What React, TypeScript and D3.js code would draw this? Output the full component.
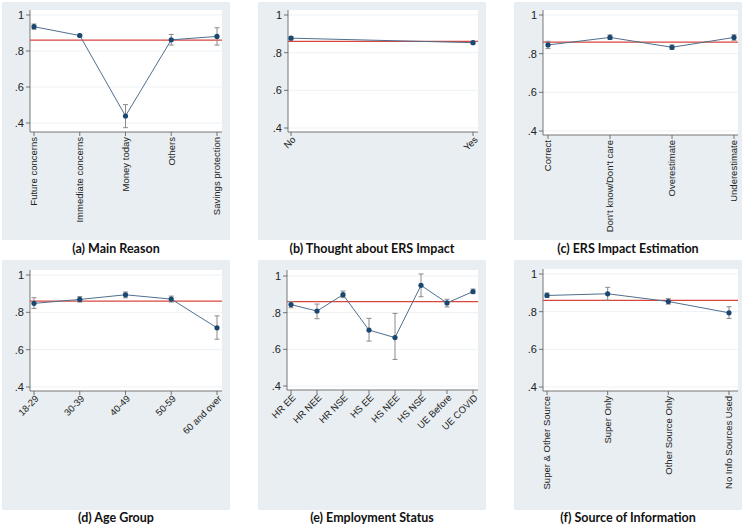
import React from "react";
import * as d3 from "d3";

// ---------- data ----------
const REF_VALUE = 0.86;
const yTickValues = [0.4, 0.6, 0.8, 1];
const yTickLabels = [".4", ".6", ".8", "1"];

const reasonCats = ["Future concerns", "Immediate concerns", "Money today", "Others", "Savings protection"];
const reasonMean = [0.935, 0.886, 0.439, 0.862, 0.881];
const reasonLo = [0.921, 0.88, 0.374, 0.833, 0.833];
const reasonHi = [0.95, 0.893, 0.502, 0.892, 0.929];

const thoughtCats = ["No", "Yes"];
const thoughtMean = [0.877, 0.853];
const thoughtLo = [0.868, 0.847];
const thoughtHi = [0.886, 0.859];

const estCats = ["Correct", "Don't know/Don't care", "Overestimate", "Underestimate"];
const estMean = [0.845, 0.884, 0.833, 0.884];
const estLo = [0.826, 0.874, 0.822, 0.869];
const estHi = [0.864, 0.897, 0.845, 0.898];

const ageCats = ["18-29", "30-39", "40-49", "50-59", "60 and over"];
const ageMean = [0.848, 0.869, 0.894, 0.871, 0.717];
const ageLo = [0.821, 0.855, 0.878, 0.855, 0.656];
const ageHi = [0.878, 0.884, 0.909, 0.887, 0.781];

const empCats = ["HR EE", "HR NEE", "HR NSE", "HS EE", "HS NEE", "HS NSE", "UE Before", "UE COVID"];
const empMean = [0.844, 0.809, 0.898, 0.705, 0.664, 0.949, 0.853, 0.915];
const empLo = [0.827, 0.767, 0.882, 0.645, 0.545, 0.887, 0.831, 0.904];
const empHi = [0.86, 0.847, 0.918, 0.769, 0.796, 1.011, 0.873, 0.929];

const srcCats = ["Super & Other Source", "Super Only", "Other Source Only", "No Info Sources Used"];
const srcMean = [0.886, 0.895, 0.854, 0.794];
const srcLo = [0.876, 0.861, 0.84, 0.764];
const srcHi = [0.899, 0.929, 0.869, 0.826];

const titles = [
  "(a) Main Reason",
  "(b) Thought about ERS Impact",
  "(c) ERS Impact Estimation",
  "(d) Age Group",
  "(e) Employment Status",
  "(f) Source of Information",
];

// ---------- style ----------
const BG = "#e8eef1";
const NAVY = "#1a476f";
const LINE_C = "#4f6f8f";
const CI_C = "#8a8a8a";
const RED = "#d9463e";
const AXIS_C = "#555";
const GRID_C = "#eef1f3";
const TICK_FONT = "'Liberation Sans', Arial, sans-serif";
const TITLE_FONT = "Lato, 'Open Sans', sans-serif";

type PanelProps = {
  bx: number; by: number; bw: number; bh: number;
  axisX: number; plotRight: number; plotTop: number; axisY: number;
  xFirst: number; xLast: number; y1: number; y04: number;
  mode: "v" | "d";
  title: string; titleY: number;
  cats: string[]; mean: number[]; lo: number[]; hi: number[];
};

function Panel(p: PanelProps) {
  const y = d3.scaleLinear().domain([0.4, 1]).range([p.y04, p.y1]);
  const x = d3.scalePoint<string>().domain(p.cats).range([p.xFirst, p.xLast]);
  const pts = p.cats.map((c, i) => [x(c) as number, y(p.mean[i])] as [number, number]);
  const path = d3.line()(pts) || "";
  const cx = p.bx + p.bw / 2;
  return (
    <g>
      <rect x={p.bx} y={p.by} width={p.bw} height={p.bh} fill={BG} />
      <rect x={p.axisX} y={p.plotTop} width={p.plotRight - p.axisX} height={p.axisY - p.plotTop} fill="#fff" />
      {yTickValues.map((v, i) => (
        <g key={i}>
          <line x1={p.axisX} x2={p.plotRight} y1={y(v)} y2={y(v)} stroke={GRID_C} strokeWidth={1} />
          <line x1={p.axisX - 4} x2={p.axisX} y1={y(v)} y2={y(v)} stroke={AXIS_C} strokeWidth={0.8} />
          <text x={p.axisX - 6} y={y(v)} dy="0.35em" textAnchor="end" fontSize={11} fontFamily={TICK_FONT} fill="#222">
            {yTickLabels[i]}
          </text>
        </g>
      ))}
      <line x1={p.axisX} x2={p.axisX} y1={p.plotTop} y2={p.axisY} stroke={AXIS_C} strokeWidth={0.8} />
      <line x1={p.axisX} x2={p.plotRight} y1={p.axisY} y2={p.axisY} stroke={AXIS_C} strokeWidth={0.8} />
      {p.cats.map((c, i) => {
        const xx = x(c) as number;
        const ty = p.axisY + 5;
        return (
          <g key={c}>
            <line x1={xx} x2={xx} y1={p.axisY} y2={p.axisY + 4} stroke={AXIS_C} strokeWidth={0.8} />
            {p.mode === "v" ? (
              <text transform={`translate(${xx},${ty}) rotate(-90)`} dy="0.35em" textAnchor="end" fontSize={9.5} fontFamily={TICK_FONT} fill="#222">
                {c}
              </text>
            ) : (
              <text transform={`translate(${xx + 3},${ty + 1}) rotate(-45)`} dy="0.35em" textAnchor="end" fontSize={9.5} fontFamily={TICK_FONT} fill="#222">
                {c}
              </text>
            )}
          </g>
        );
      })}
      <line x1={p.axisX} x2={p.plotRight} y1={y(REF_VALUE)} y2={y(REF_VALUE)} stroke={RED} strokeWidth={1.2} />
      <path d={path} fill="none" stroke={LINE_C} strokeWidth={1} />
      {p.cats.map((c, i) => {
        const xx = x(c) as number;
        return (
          <g key={"ci" + c}>
            <line x1={xx} x2={xx} y1={y(p.lo[i])} y2={y(p.hi[i])} stroke={CI_C} strokeWidth={1} />
            <line x1={xx - 2.5} x2={xx + 2.5} y1={y(p.lo[i])} y2={y(p.lo[i])} stroke={CI_C} strokeWidth={1} />
            <line x1={xx - 2.5} x2={xx + 2.5} y1={y(p.hi[i])} y2={y(p.hi[i])} stroke={CI_C} strokeWidth={1} />
            <circle cx={xx} cy={y(p.mean[i])} r={2.6} fill={NAVY} />
          </g>
        );
      })}
      <text x={cx} y={p.titleY} textAnchor="middle" fontSize={12.5} fontWeight="bold" fontFamily={TITLE_FONT} fill="#111">
        {p.title}
      </text>
    </g>
  );
}

export default function App() {
  const top = { by: 2, bh: 238, titleY: 253 };
  const bot = { by: 260, bh: 250, titleY: 522 };
  return (
    <svg width={745} height={527} style={{ position: "absolute", left: 0, top: 0, background: "#fff" }}>
      <Panel bx={2} bw={228} {...top} axisX={30} plotRight={222} plotTop={10} axisY={132}
        xFirst={34} xLast={217} y1={15} y04={123} mode="v" title={titles[0]}
        cats={reasonCats} mean={reasonMean} lo={reasonLo} hi={reasonHi} />
      <Panel bx={258} bw={228} {...top} axisX={288} plotRight={478} plotTop={10} axisY={132}
        xFirst={291} xLast={473} y1={15} y04={128} mode="d" title={titles[1]}
        cats={thoughtCats} mean={thoughtMean} lo={thoughtLo} hi={thoughtHi} />
      <Panel bx={514} bw={228} {...top} axisX={543} plotRight={738} plotTop={10} axisY={135}
        xFirst={548} xLast={734} y1={15} y04={131} mode="v" title={titles[2]}
        cats={estCats} mean={estMean} lo={estLo} hi={estHi} />
      <Panel bx={2} bw={228} {...bot} axisX={30} plotRight={222} plotTop={270} axisY={391}
        xFirst={34} xLast={217} y1={275} y04={387} mode="d" title={titles[3]}
        cats={ageCats} mean={ageMean} lo={ageLo} hi={ageHi} />
      <Panel bx={258} bw={228} {...bot} axisX={287} plotRight={478} plotTop={270} axisY={390}
        xFirst={291} xLast={473} y1={276} y04={386} mode="d" title={titles[4]}
        cats={empCats} mean={empMean} lo={empLo} hi={empHi} />
      <Panel bx={514} bw={228} {...bot} axisX={543} plotRight={738} plotTop={269} axisY={391}
        xFirst={547} xLast={729} y1={274} y04={387} mode="v" title={titles[5]}
        cats={srcCats} mean={srcMean} lo={srcLo} hi={srcHi} />
    </svg>
  );
}
